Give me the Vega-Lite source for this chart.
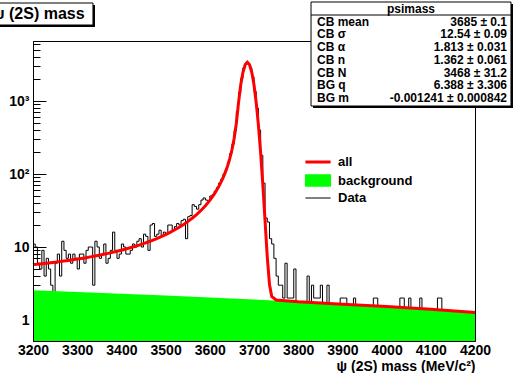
{
  "$schema": "https://vega.github.io/schema/vega-lite/v6.json",
  "width": 442,
  "height": 300,
  "autosize": {"type": "none"},
  "padding": {"left": 33, "top": 41, "right": 42, "bottom": 32},
  "background": "white",
  "config": {"view": {"stroke": "black", "strokeWidth": 1}, "font": "Liberation Sans"},
  "datasets": {
    "hist": [
      {"m":3200,"n":11},{"m":3205,"n":10},{"m":3210,"n":6},{"m":3215,"n":5},{"m":3220,"n":9},{"m":3225,"n":4},{"m":3230,"n":7},{"m":3235,"n":5},{"m":3240,"n":3},{"m":3245,"n":2},
      {"m":3250,"n":6},{"m":3255,"n":8},{"m":3260,"n":4},{"m":3265,"n":12},{"m":3270,"n":9},{"m":3275,"n":7},{"m":3280,"n":8},{"m":3285,"n":6},{"m":3290,"n":8},{"m":3295,"n":7},
      {"m":3300,"n":5},{"m":3305,"n":8},{"m":3310,"n":8},{"m":3315,"n":6},{"m":3320,"n":9},{"m":3325,"n":10},{"m":3330,"n":10},{"m":3335,"n":3},{"m":3340,"n":12},{"m":3345,"n":10},
      {"m":3350,"n":7},{"m":3355,"n":8},{"m":3360,"n":11},{"m":3365,"n":6},{"m":3370,"n":7},{"m":3375,"n":9},{"m":3380,"n":16},{"m":3385,"n":9},{"m":3390,"n":7},{"m":3395,"n":8},
      {"m":3400,"n":11},{"m":3405,"n":10},{"m":3410,"n":8},{"m":3415,"n":8},{"m":3420,"n":9},{"m":3425,"n":11},{"m":3430,"n":10},{"m":3435,"n":12},{"m":3440,"n":13},{"m":3445,"n":10},
      {"m":3450,"n":15},{"m":3455,"n":14},{"m":3460,"n":9},{"m":3465,"n":20},{"m":3470,"n":21},{"m":3475,"n":14},{"m":3480,"n":15},{"m":3485,"n":17},{"m":3490,"n":14},{"m":3495,"n":16},
      {"m":3500,"n":15},{"m":3505,"n":20},{"m":3510,"n":20},{"m":3515,"n":17},{"m":3520,"n":19},{"m":3525,"n":21},{"m":3530,"n":20},{"m":3535,"n":23},{"m":3540,"n":24},{"m":3545,"n":13},
      {"m":3550,"n":26},{"m":3555,"n":27},{"m":3560,"n":38},{"m":3565,"n":36},{"m":3570,"n":33},{"m":3575,"n":38},{"m":3580,"n":44},{"m":3585,"n":47},{"m":3590,"n":44},{"m":3595,"n":43},
      {"m":3600,"n":50},{"m":3605,"n":52},{"m":3610,"n":58},{"m":3615,"n":65},{"m":3620,"n":75},{"m":3625,"n":85},{"m":3630,"n":100},{"m":3635,"n":115},{"m":3640,"n":145},{"m":3645,"n":190},
      {"m":3650,"n":255},{"m":3655,"n":390},{"m":3660,"n":720},{"m":3665,"n":1300},{"m":3670,"n":2050},{"m":3675,"n":2850},{"m":3680,"n":3300},{"m":3685,"n":3250},{"m":3690,"n":2850},{"m":3695,"n":2150},
      {"m":3700,"n":1350},{"m":3705,"n":800},{"m":3710,"n":400},{"m":3715,"n":180},{"m":3720,"n":75},{"m":3725,"n":25},{"m":3730,"n":22},{"m":3735,"n":13},{"m":3740,"n":11},{"m":3745,"n":7},
      {"m":3750,"n":4},{"m":3755,"n":3},{"m":3760,"n":3},{"m":3765,"n":2},{"m":3770,"n":6},{"m":3775,"n":2},{"m":3780,"n":2},{"m":3785,"n":2},{"m":3790,"n":5},{"m":3795,"n":1},
      {"m":3800,"n":1},{"m":3805,"n":1},{"m":3810,"n":1},{"m":3815,"n":1},{"m":3820,"n":4},{"m":3825,"n":1},{"m":3830,"n":3},{"m":3835,"n":2},{"m":3840,"n":2},{"m":3845,"n":2},
      {"m":3850,"n":3},{"m":3855,"n":1},{"m":3860,"n":1},{"m":3865,"n":3},{"m":3870,"n":1},{"m":3875,"n":1},{"m":3880,"n":1},{"m":3885,"n":1},{"m":3890,"n":1},{"m":3895,"n":2},
      {"m":3900,"n":2},{"m":3905,"n":2},{"m":3910,"n":1},{"m":3915,"n":1},{"m":3920,"n":1},{"m":3925,"n":2},{"m":3930,"n":1},{"m":3935,"n":1},{"m":3940,"n":1},{"m":3945,"n":1},
      {"m":3950,"n":1},{"m":3955,"n":1},{"m":3960,"n":1},{"m":3965,"n":1},{"m":3970,"n":2},{"m":3975,"n":2},{"m":3980,"n":1},{"m":3985,"n":1},{"m":3990,"n":1},{"m":3995,"n":1},
      {"m":4000,"n":1},{"m":4005,"n":1},{"m":4010,"n":1},{"m":4015,"n":1},{"m":4020,"n":1},{"m":4025,"n":1},{"m":4030,"n":2},{"m":4035,"n":2},{"m":4040,"n":1},{"m":4045,"n":1},
      {"m":4050,"n":2},{"m":4055,"n":1},{"m":4060,"n":1},{"m":4065,"n":1},{"m":4070,"n":1},{"m":4075,"n":2},{"m":4080,"n":1},{"m":4085,"n":1},{"m":4090,"n":1},{"m":4095,"n":1},
      {"m":4100,"n":1},{"m":4105,"n":1},{"m":4110,"n":1},{"m":4115,"n":2},{"m":4120,"n":2},{"m":4125,"n":1},{"m":4130,"n":1},{"m":4135,"n":1},{"m":4140,"n":1},{"m":4145,"n":1},
      {"m":4150,"n":1},{"m":4155,"n":1},{"m":4160,"n":1},{"m":4165,"n":1},{"m":4170,"n":1},{"m":4175,"n":1},{"m":4180,"n":1},{"m":4185,"n":1},{"m":4190,"n":1},{"m":4195,"n":1},
      {"m":4200,"n":1}
    ],
    "fit": [
      {"m":3200,"f":5.74},{"m":3210,"f":5.81},{"m":3220,"f":5.9},{"m":3230,"f":5.99},{"m":3240,"f":6.09},{"m":3250,"f":6.2},{"m":3260,"f":6.31},{"m":3270,"f":6.42},{"m":3280,"f":6.55},{"m":3290,"f":6.69},
      {"m":3300,"f":6.83},{"m":3310,"f":6.98},{"m":3320,"f":7.15},{"m":3330,"f":7.33},{"m":3340,"f":7.51},{"m":3350,"f":7.72},{"m":3360,"f":7.94},{"m":3370,"f":8.18},{"m":3380,"f":8.45},{"m":3390,"f":8.74},
      {"m":3400,"f":9.05},{"m":3410,"f":9.39},{"m":3420,"f":9.76},{"m":3430,"f":10.17},{"m":3440,"f":10.63},{"m":3450,"f":11.14},{"m":3460,"f":11.71},{"m":3470,"f":12.33},{"m":3480,"f":13.05},{"m":3490,"f":13.86},
      {"m":3500,"f":14.79},{"m":3510,"f":15.85},{"m":3520,"f":17.08},{"m":3530,"f":18.52},{"m":3540,"f":20.22},{"m":3550,"f":22.26},{"m":3560,"f":24.76},{"m":3570,"f":27.82},{"m":3580,"f":31.7},{"m":3590,"f":36.75},
      {"m":3600,"f":43.5},{"m":3610,"f":52.9},{"m":3620,"f":66.7},{"m":3630,"f":88.8},{"m":3635,"f":105.2},{"m":3640,"f":128},{"m":3645,"f":161},{"m":3650,"f":213},{"m":3655,"f":304},{"m":3660,"f":492},
      {"m":3665,"f":952},{"m":3670,"f":1665},{"m":3675,"f":2474},{"m":3680,"f":3142},{"m":3685,"f":3400},{"m":3690,"f":3142},{"m":3695,"f":2474},{"m":3700,"f":1665},{"m":3705,"f":952},{"m":3710,"f":468},
      {"m":3715,"f":196},{"m":3720,"f":71.1},{"m":3725,"f":22.9},{"m":3730,"f":7.34},{"m":3735,"f":3.1},{"m":3740,"f":2.11},{"m":3750,"f":1.88},{"m":3800,"f":1.78},{"m":3900,"f":1.65},{"m":4000,"f":1.53},
      {"m":4100,"f":1.4},{"m":4200,"f":1.27}
    ],
    "bg": [
      {"m":3200,"b":2.55},{"m":3300,"b":2.42},{"m":3400,"b":2.29},{"m":3500,"b":2.17},{"m":3600,"b":2.04},{"m":3700,"b":1.91},{"m":3800,"b":1.78},{"m":3900,"b":1.65},{"m":4000,"b":1.53},{"m":4100,"b":1.4},{"m":4200,"b":1.27}
    ],
    "stats": [
      {"k":"CB mean","v":"3685 ± 0.1"},
      {"k":"CB σ","v":"12.54 ± 0.09"},
      {"k":"CB α","v":"1.813 ± 0.031"},
      {"k":"CB n","v":"1.362 ± 0.061"},
      {"k":"CB N","v":"3468 ± 31.2"},
      {"k":"BG q","v":"6.388 ± 3.306"},
      {"k":"BG m","v":"-0.001241 ± 0.000842"}
    ]
  },
  "layer": [
    {
      "data": {"name": "hist"},
      "mark": {"type": "line", "interpolate": "step-after", "strokeWidth": 1},
      "encoding": {
        "x": {"field": "m", "type": "quantitative", "scale": {"domain": [3200, 4200], "nice": false, "zero": false}, "axis": null},
        "y": {"field": "n", "type": "quantitative", "scale": {"type": "log", "domain": [0.516, 6637], "nice": false, "zero": false},
          "axis": {"orient": "left", "values": [2,3,4,5,6,7,8,9,20,30,40,50,60,70,80,90,200,300,400,500,600,700,800,900,2000,3000,4000,5000,6000],
            "labels": false, "domain": false, "grid": false, "ticks": true, "tickSize": -7, "tickColor": "black", "tickWidth": 1, "title": null, "zindex": 0}},
        "color": {"datum": "Data", "scale": {"domain": ["all", "background", "Data"], "range": ["#ff0000", "#00ff00", "#000000"]},
          "legend": {
            "title": null, "orient": "none", "legendX": 278.5, "legendY": 114.5, "padding": 0,
            "labelFont": "Liberation Sans", "labelFontSize": 13, "labelFontWeight": "bold", "labelColor": "black",
            "symbolSize": 144, "labelOffset": 13.5, "rowPadding": 2.5, "symbolType": "M-2.1,0H2.1",
            "encoding": {"symbols": {
              "shape": {"value": {"expr": "datum.value === 'background' ? 'M-2.1,-0.95H2.1V0.95H-2.1Z' : 'M-2.1,0H2.1'"}},
              "fill": {"value": {"expr": "datum.value === 'background' ? '#00ff00' : 'transparent'"}},
              "stroke": {"value": {"expr": "datum.value === 'all' ? '#ff0000' : (datum.value === 'Data' ? '#000000' : 'transparent')"}},
              "strokeWidth": {"value": {"expr": "datum.value === 'all' ? 3 : 1"}},
              "opacity": {"value": 1}
            }}
          }}
      }
    },
    {
      "data": {"name": "bg"},
      "mark": {"type": "area", "opacity": 1},
      "encoding": {
        "x": {"field": "m", "type": "quantitative", "scale": {"domain": [3200, 4200], "nice": false, "zero": false}, "axis": null},
        "y": {"field": "b", "type": "quantitative", "scale": {"type": "log", "domain": [0.516, 6637], "nice": false, "zero": false},
          "axis": {"orient": "left", "values": [1, 10, 100, 1000], "labels": false, "domain": false, "grid": false, "ticks": true, "tickSize": -13, "tickColor": "black", "tickWidth": 1, "title": null, "zindex": 0}},
        "y2": {"datum": 0.516},
        "color": {"datum": "background", "scale": {"domain": ["all", "background", "Data"], "range": ["#ff0000", "#00ff00", "#000000"]}}
      }
    },
    {
      "data": {"name": "fit"},
      "mark": {"type": "line", "strokeWidth": 3},
      "encoding": {
        "x": {"field": "m", "type": "quantitative", "scale": {"domain": [3200, 4200], "nice": false, "zero": false},
          "axis": {"orient": "bottom", "values": [3200,3300,3400,3500,3600,3700,3800,3900,4000,4100,4200], "format": "d",
            "ticks": false, "tickSize": 0, "labelPadding": 2, "labelFont": "Liberation Sans", "labelFontSize": 14, "labelFontWeight": "bold", "labelColor": "black",
            "labelFlush": false, "labelOverlap": false, "domain": true, "domainColor": "black", "domainWidth": 1, "grid": false,
            "title": "ψ (2S) mass (MeV/c²)", "titleFont": "Liberation Sans", "titleFontSize": 14, "titleFontWeight": "bold", "titleColor": "black",
            "titleAnchor": "end", "titleBaseline": "alphabetic", "titleY": 29, "zindex": 1}},
        "y": {"field": "f", "type": "quantitative", "scale": {"type": "log", "domain": [0.516, 6637], "nice": false, "zero": false},
          "axis": {"orient": "left", "values": [1, 10, 100, 1000], "ticks": false, "tickSize": 0, "labelPadding": 4,
            "labelExpr": "datum.value == 1 ? '1' : (datum.value == 10 ? '10' : (datum.value == 100 ? '10²' : '10³'))",
            "labelFont": "Liberation Sans", "labelFontSize": 14, "labelFontWeight": "bold", "labelColor": "black",
            "domain": true, "domainColor": "black", "domainWidth": 1, "grid": false, "title": null, "zindex": 1}},
        "color": {"datum": "all", "scale": {"domain": ["all", "background", "Data"], "range": ["#ff0000", "#00ff00", "#000000"]}}
      }
    },
    {
      "layer": [
        {
          "data": {"values": [{}]},
          "mark": {"type": "rect", "fill": "black", "xOffset": 2, "x2Offset": 2, "yOffset": -5, "y2Offset": 10},
          "encoding": {
            "x": {"datum": 3829, "type": "quantitative", "scale": {"domain": [3200, 4200], "nice": false, "zero": false}, "axis": null},
            "x2": {"datum": 4281.4},
            "y": {"datum": "psimass", "type": "nominal", "scale": {"type": "point", "domain": ["psimass","CB mean","CB σ","CB α","CB n","CB N","BG q","BG m"], "range": [-32, 57], "padding": 0}, "axis": null},
            "y2": {"datum": "BG m"}
          }
        },
        {
          "data": {"values": [{}]},
          "mark": {"type": "rect", "fill": "white", "stroke": "black", "strokeWidth": 1, "yOffset": -7, "y2Offset": 8},
          "encoding": {
            "x": {"datum": 3829, "type": "quantitative", "scale": {"domain": [3200, 4200], "nice": false, "zero": false}, "axis": null},
            "x2": {"datum": 4281.4},
            "y": {"datum": "psimass", "type": "nominal", "scale": {"type": "point", "domain": ["psimass","CB mean","CB σ","CB α","CB n","CB N","BG q","BG m"], "range": [-32, 57], "padding": 0}, "axis": null},
            "y2": {"datum": "BG m"}
          }
        },
        {
          "data": {"values": [{}]},
          "mark": {"type": "rule", "color": "black", "strokeWidth": 1, "yOffset": 6},
          "encoding": {
            "x": {"datum": 3829, "type": "quantitative", "scale": {"domain": [3200, 4200], "nice": false, "zero": false}, "axis": null},
            "x2": {"datum": 4281.4},
            "y": {"datum": "psimass", "type": "nominal", "scale": {"type": "point", "domain": ["psimass","CB mean","CB σ","CB α","CB n","CB N","BG q","BG m"], "range": [-32, 57], "padding": 0}, "axis": null}
          }
        },
        {
          "data": {"values": [{}]},
          "mark": {"type": "text", "text": "psimass", "font": "Liberation Sans", "fontSize": 12, "fontWeight": "bold", "align": "center", "baseline": "middle", "color": "black"},
          "encoding": {
            "x": {"datum": 4055.2, "type": "quantitative", "scale": {"domain": [3200, 4200], "nice": false, "zero": false}, "axis": null},
            "y": {"datum": "psimass", "type": "nominal", "scale": {"type": "point", "domain": ["psimass","CB mean","CB σ","CB α","CB n","CB N","BG q","BG m"], "range": [-32, 57], "padding": 0}, "axis": null}
          }
        },
        {
          "data": {"name": "stats"},
          "mark": {"type": "text", "font": "Liberation Sans", "fontSize": 12, "fontWeight": "bold", "align": "left", "baseline": "middle", "color": "black"},
          "encoding": {
            "text": {"field": "k"},
            "x": {"datum": 3842.5, "type": "quantitative", "scale": {"domain": [3200, 4200], "nice": false, "zero": false}, "axis": null},
            "y": {"field": "k", "type": "nominal", "scale": {"type": "point", "domain": ["psimass","CB mean","CB σ","CB α","CB n","CB N","BG q","BG m"], "range": [-32, 57], "padding": 0}, "axis": null}
          }
        },
        {
          "data": {"name": "stats"},
          "mark": {"type": "text", "font": "Liberation Sans", "fontSize": 12, "fontWeight": "bold", "align": "right", "baseline": "middle", "color": "black"},
          "encoding": {
            "text": {"field": "v"},
            "x": {"datum": 4272.4, "type": "quantitative", "scale": {"domain": [3200, 4200], "nice": false, "zero": false}, "axis": null},
            "y": {"field": "k", "type": "nominal", "scale": {"type": "point", "domain": ["psimass","CB mean","CB σ","CB α","CB n","CB N","BG q","BG m"], "range": [-32, 57], "padding": 0}, "axis": null}
          }
        },
        {
          "data": {"values": [{}]},
          "mark": {"type": "rect", "fill": "black", "xOffset": 2, "x2Offset": 2, "yOffset": -4, "y2Offset": 18},
          "encoding": {
            "x": {"datum": 3090, "type": "quantitative", "scale": {"domain": [3200, 4200], "nice": false, "zero": false}, "axis": null},
            "x2": {"datum": 3335.7},
            "y": {"datum": "psimass", "type": "nominal", "scale": {"type": "point", "domain": ["psimass","CB mean","CB σ","CB α","CB n","CB N","BG q","BG m"], "range": [-32, 57], "padding": 0}, "axis": null},
            "y2": {"datum": "psimass"}
          }
        },
        {
          "data": {"values": [{}]},
          "mark": {"type": "rect", "fill": "white", "stroke": "black", "strokeWidth": 1, "yOffset": -6, "y2Offset": 16},
          "encoding": {
            "x": {"datum": 3090, "type": "quantitative", "scale": {"domain": [3200, 4200], "nice": false, "zero": false}, "axis": null},
            "x2": {"datum": 3335.7},
            "y": {"datum": "psimass", "type": "nominal", "scale": {"type": "point", "domain": ["psimass","CB mean","CB σ","CB α","CB n","CB N","BG q","BG m"], "range": [-32, 57], "padding": 0}, "axis": null},
            "y2": {"datum": "psimass"}
          }
        },
        {
          "data": {"values": [{}]},
          "mark": {"type": "text", "text": "ψ (2S) mass", "font": "Liberation Sans", "fontSize": 16, "fontWeight": "bold", "align": "left", "baseline": "middle", "color": "black", "yOffset": 5},
          "encoding": {
            "x": {"datum": 3108.4, "type": "quantitative", "scale": {"domain": [3200, 4200], "nice": false, "zero": false}, "axis": null},
            "y": {"datum": "psimass", "type": "nominal", "scale": {"type": "point", "domain": ["psimass","CB mean","CB σ","CB α","CB n","CB N","BG q","BG m"], "range": [-32, 57], "padding": 0}, "axis": null}
          }
        }
      ]
    }
  ],
  "resolve": {"scale": {"y": "independent"}, "axis": {"x": "independent", "y": "independent"}}
}
